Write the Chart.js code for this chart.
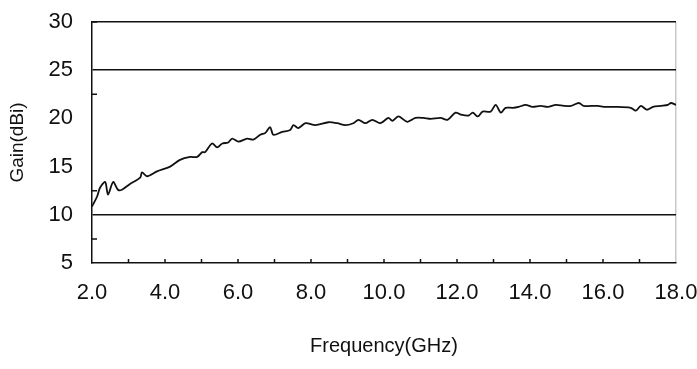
<!DOCTYPE html>
<html>
<head>
<meta charset="utf-8">
<script src="https://cdn.jsdelivr.net/npm/chart.js@4.4.1/dist/chart.umd.min.js"></script>
<style>
  html, body { margin: 0; background: #fff; }
  #wrap { width: 697px; height: 369px; }
</style>
</head>
<body>
<div id="wrap"><canvas id="gain-chart"></canvas></div>
<script>
const freqGHz = [
  2.00, 2.14, 2.22, 2.36, 2.44, 2.58, 2.71, 2.82, 3.04, 3.32, 3.37, 3.51, 3.78,
  4.14, 4.41, 4.69, 4.88, 5.02, 5.10, 5.29, 5.43, 5.57, 5.73, 5.84, 6.01, 6.25,
  6.42, 6.61, 6.75, 6.88, 6.97, 7.21, 7.43, 7.52, 7.65, 7.85, 8.12, 8.48, 8.72,
  8.94, 9.16, 9.30, 9.49, 9.68, 9.90, 10.12, 10.23, 10.40, 10.64, 10.86, 11.08,
  11.28, 11.55, 11.74, 11.96, 12.10, 12.32, 12.43, 12.57, 12.70, 12.92, 13.06,
  13.20, 13.33, 13.53, 13.69, 13.88, 14.07, 14.29, 14.49, 14.71, 14.93, 15.12,
  15.34, 15.47, 15.86, 16.02, 16.30, 16.76, 16.90, 17.04, 17.20, 17.37, 17.59,
  17.78, 17.86, 18.00
];
const gainDbi = [
  10.85, 11.9, 12.8, 13.4, 12.1, 13.4, 12.6, 12.6, 13.2, 13.85, 14.4, 14.0, 14.5,
  15.0, 15.7, 16.0, 16.0, 16.5, 16.5, 17.4, 17.0, 17.4, 17.5, 17.9, 17.6, 17.9,
  17.8, 18.3, 18.5, 19.1, 18.3, 18.6, 18.8, 19.3, 19.0, 19.5, 19.3, 19.6, 19.5,
  19.3, 19.5, 19.85, 19.5, 19.85, 19.5, 20.05, 19.75, 20.2, 19.65, 20.05, 20.05,
  19.95, 20.05, 19.85, 20.6, 20.4, 20.3, 20.6, 20.2, 20.7, 20.7, 21.4,
  20.6, 21.1, 21.1, 21.2, 21.4, 21.2, 21.3, 21.2, 21.4, 21.3, 21.3,
  21.6, 21.3, 21.3, 21.2, 21.2, 21.1, 20.8, 21.3, 20.9, 21.2, 21.3,
  21.4, 21.6, 21.4
];
const refLines = [10, 25];
const xMinorTicks = [3, 4, 5, 6, 7, 8, 9, 10, 11, 12, 13, 14, 15, 16, 17];
const yMinorTicks = [7.5, 12.5, 22.5, 30];

const ink = "#111111";

// short tick marks pointing into the plot, like the original
const innerTicks = {
  id: "innerTicks",
  afterDraw(chart) {
    const { ctx, chartArea, scales } = chart;
    ctx.save();
    ctx.strokeStyle = ink;
    ctx.lineWidth = 1.5;
    ctx.beginPath();
    xMinorTicks.forEach((v) => {
      const px = scales.x.getPixelForValue(v);
      ctx.moveTo(px, chartArea.bottom);
      ctx.lineTo(px, chartArea.bottom - 4);
    });
    yMinorTicks.forEach((v) => {
      const py = scales.y.getPixelForValue(v);
      ctx.moveTo(chartArea.left, py);
      ctx.lineTo(chartArea.left + 5, py);
    });
    ctx.stroke();
    ctx.restore();
  },
};

new Chart(document.getElementById("gain-chart"), {
  type: "line",
  data: {
    datasets: [
      {
        label: "Gain",
        data: freqGHz.map((f, i) => ({ x: f, y: gainDbi[i] })),
        borderColor: ink,
        borderWidth: 1.8,
        pointRadius: 0,
        tension: 0.3,
        fill: false,
      },
    ],
  },
  options: {
    responsive: true,
    maintainAspectRatio: false,
    animation: false,
    layout: { padding: { top: 22, right: 21, left: 0, bottom: 0 } },
    plugins: {
      legend: { display: false },
      tooltip: { enabled: false },
    },
    scales: {
      x: {
        type: "linear",
        min: 2,
        max: 18,
        afterFit: (scale) => {
          scale.height = 106;
          scale.paddingLeft = 0;
          scale.paddingRight = 0;
        },
        ticks: {
          stepSize: 2,
          padding: 17,
          color: ink,
          font: { family: "Liberation Sans", size: 22 },
          callback: (v) => v.toFixed(1),
          maxRotation: 0,
        },
        grid: {
          drawTicks: false,
          color: (c) => (c.tick && c.tick.value === 18 ? "#c8c8c8" : "rgba(0,0,0,0)"),
          lineWidth: 1.5,
        },
        border: { color: ink, width: 1.5 },
        title: {
          display: true,
          text: "Frequency(GHz)",
          color: ink,
          font: { family: "Liberation Sans", size: 20 },
          padding: { top: 0, bottom: 11 },
        },
      },
      y: {
        min: 5,
        max: 30,
        afterFit: (scale) => {
          scale.width = 92;
          scale.paddingTop = 0;
          scale.paddingBottom = 0;
        },
        ticks: {
          stepSize: 5,
          padding: 19,
          color: ink,
          font: { family: "Liberation Sans", size: 22 },
        },
        grid: {
          drawTicks: false,
          color: (c) =>
            c.tick && (refLines.includes(c.tick.value) || c.tick.value === 30) ? ink : "rgba(0,0,0,0)",
          lineWidth: 1.5,
        },
        border: { color: ink, width: 1.5 },
        title: {
          display: true,
          text: "Gain(dBi)",
          color: ink,
          font: { family: "Liberation Sans", size: 19 },
          padding: { top: 6, bottom: 0 },
        },
      },
    },
  },
  plugins: [innerTicks],
});
</script>
</body>
</html>
